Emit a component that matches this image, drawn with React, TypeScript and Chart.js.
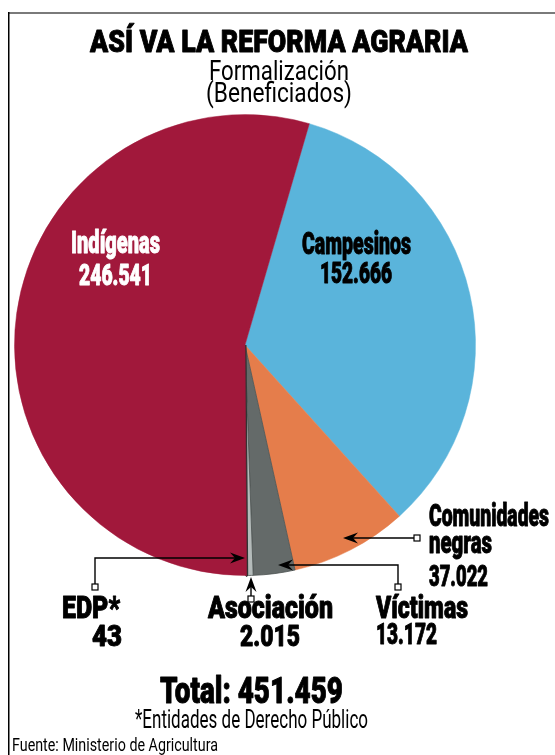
import { useEffect, useRef } from "react";
import { Chart, registerables } from "chart.js";

Chart.register(...registerables);

// ---- data ----
const categories = ["Campesinos", "Comunidades negras", "Víctimas", "Asociación", "EDP*", "Indígenas"];
const beneficiados = [152666, 37022, 13172, 2015, 43, 246541];
const sliceColors = ["#5ab4db", "#e57d4b", "#646a69", "#b4bbba", "#2f3433", "#a1183b"];
const titleText = "ASÍ VA LA REFORMA AGRARIA";
const subtitleLines = ["Formalización", "(Beneficiados)"];
const totalLabel = "Total:";
const footnote = "*Entidades de Derecho Público";
const sourceText = "Fuente: Ministerio de Agricultura";

const fmt = (v: number) => String(v).replace(/\B(?=(\d{3})+(?!\d))/g, ".");

const FONT = 'Roboto, "Liberation Sans", sans-serif';

function fitText(
  ctx: CanvasRenderingContext2D,
  text: string,
  x: number,
  y: number,
  size: number,
  weight: string,
  align: "left" | "center" | "right",
  width: number,
  color: string,
  vscale = 1
) {
  ctx.save();
  ctx.font = `${weight} ${size}px ${FONT}`;
  const w = ctx.measureText(text).width;
  const s = width / w;
  const left = align === "center" ? x - width / 2 : align === "right" ? x - width : x;
  ctx.fillStyle = color;
  ctx.strokeStyle = color;
  ctx.textAlign = "left";
  ctx.textBaseline = "alphabetic";
  ctx.translate(left, y);
  ctx.scale(s, vscale);
  ctx.fillText(text, 0, 0);
  if (weight !== "normal") {
    ctx.lineWidth = 0.9;
    ctx.lineJoin = "round";
    ctx.strokeText(text, 0, 0);
  }
  ctx.restore();
}

function drawArrow(ctx: CanvasRenderingContext2D, pts: number[][]) {
  ctx.save();
  ctx.strokeStyle = "#000";
  ctx.fillStyle = "#000";
  ctx.lineWidth = 1.4;
  const [tx, ty] = pts[pts.length - 1];
  const [px, py] = pts[pts.length - 2];
  const ang = Math.atan2(ty - py, tx - px);
  const L = 15;
  const W = 5.5;
  const N = 10;
  ctx.beginPath();
  ctx.moveTo(pts[0][0], pts[0][1]);
  for (let i = 1; i < pts.length - 1; i++) ctx.lineTo(pts[i][0], pts[i][1]);
  ctx.lineTo(tx - Math.cos(ang) * N, ty - Math.sin(ang) * N);
  ctx.stroke();
  ctx.translate(tx, ty);
  ctx.rotate(ang);
  ctx.beginPath();
  ctx.moveTo(0, 0);
  ctx.lineTo(-L, -W);
  ctx.lineTo(-N, 0);
  ctx.lineTo(-L, W);
  ctx.closePath();
  ctx.fill();
  ctx.restore();
  ctx.save();
  ctx.fillStyle = "#fff";
  ctx.strokeStyle = "#000";
  ctx.lineWidth = 1.2;
  ctx.fillRect(pts[0][0] - 3, pts[0][1] - 3, 6, 6);
  ctx.strokeRect(pts[0][0] - 3, pts[0][1] - 3, 6, 6);
  ctx.restore();
}

const overlayPlugin = {
  id: "overlay",
  afterDraw(chart: any) {
    const ctx: CanvasRenderingContext2D = chart.ctx;
    // frame
    ctx.save();
    ctx.fillStyle = "#7a7a7a";
    ctx.fillRect(8, 12, 547, 2);
    ctx.fillStyle = "#000";
    ctx.fillRect(8, 12, 1.5, 743);
    ctx.restore();

    const B = "900";
    // titles
    fitText(ctx, titleText, 279, 52, 30, B, "center", 378, "#000", 1.04);
    fitText(ctx, subtitleLines[0], 279, 80, 26, "normal", "center", 140, "#000", 1.06);
    fitText(ctx, subtitleLines[1], 279, 102, 26, "normal", "center", 146, "#000", 1.06);

    const v = beneficiados.map(fmt);
    // Campesinos
    fitText(ctx, categories[0], 356.5, 254, 30, B, "center", 109, "#000", 1.05);
    fitText(ctx, v[0], 356, 283, 28, B, "center", 72, "#000", 1.05);
    // Indígenas
    fitText(ctx, categories[5], 115.5, 253, 30, B, "center", 89, "#fff", 1.05);
    fitText(ctx, v[5], 115.5, 285, 28, B, "center", 73, "#fff", 1.05);
    // Comunidades negras
    const cn = categories[1].split(" ");
    fitText(ctx, cn[0], 429, 526, 29, B, "left", 120, "#000", 1.05);
    fitText(ctx, cn[1], 429, 553, 29, B, "left", 63, "#000", 1.05);
    fitText(ctx, v[1], 429, 586, 28, B, "left", 59, "#000", 1.05);
    // Víctimas
    fitText(ctx, categories[2], 376, 618, 29, B, "left", 92, "#000", 1.05);
    fitText(ctx, v[2], 376, 644, 28, B, "left", 61, "#000", 1.05);
    // Asociación
    fitText(ctx, categories[3], 270.5, 618, 29, B, "center", 125, "#000", 1.05);
    fitText(ctx, v[3], 270, 646, 28, B, "center", 60, "#000", 1.05);
    // EDP
    fitText(ctx, categories[4], 62, 618, 29, B, "left", 58, "#000", 1.05);
    fitText(ctx, v[4], 92, 646, 28, B, "left", 30, "#000", 1.05);

    // total
    const total = beneficiados.reduce((a, b) => a + b, 0);
    fitText(ctx, `${totalLabel} ${fmt(total)}`, 251.5, 703, 35, B, "center", 183, "#000", 1.05);
    fitText(ctx, footnote, 251.5, 728, 25, "normal", "center", 233, "#000", 1.05);
    fitText(ctx, sourceText, 12, 751, 18, "normal", "left", 206, "#000");

    // arrows
    drawArrow(ctx, [[417, 538], [343, 538]]);
    drawArrow(ctx, [[398, 587], [398, 565], [278, 565]]);
    drawArrow(ctx, [[95, 587], [95, 558], [245, 558]]);
    drawArrow(ctx, [[251, 599], [251, 577]]);
  },
};

export default function App() {
  const ref = useRef<HTMLCanvasElement | null>(null);
  useEffect(() => {
    if (!ref.current) return;
    const chart = new Chart(ref.current, {
      type: "pie",
      data: {
        labels: categories,
        datasets: [
          {
            data: beneficiados,
            backgroundColor: sliceColors,
            borderColor: ["#5ab4db", "#e57d4b", "#4d5352", "#4d5352", "#2f3433", "#a1183b"],
            borderWidth: [0.5, 0.5, 0.8, 0.8, 3, 0.5],
          },
        ],
      },
      options: {
        responsive: false,
        animation: false,
        rotation: 16.2,
        layout: { padding: { left: 13, right: 78, top: 113, bottom: 178 } },
        plugins: { legend: { display: false }, tooltip: { enabled: false } },
      },
      plugins: [overlayPlugin],
    });
    return () => chart.destroy();
  }, []);
  return (
    <div style={{ position: "absolute", left: 0, top: 0, width: 555, height: 755, background: "#fff" }}>
      <canvas ref={ref} width={555} height={755} style={{ display: "block" }} />
    </div>
  );
}
